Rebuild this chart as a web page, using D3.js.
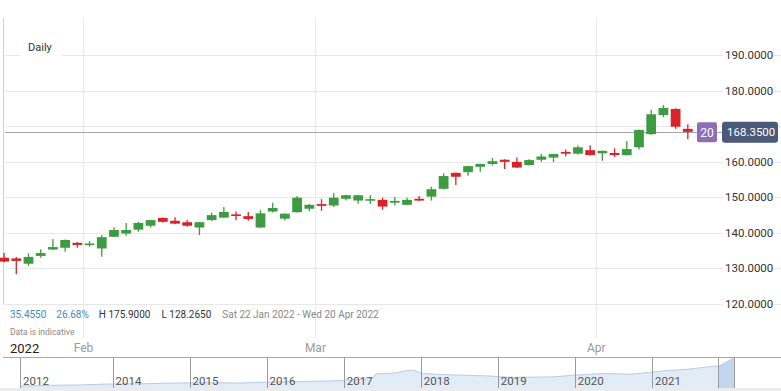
<!DOCTYPE html>
<html>
<head>
<meta charset="utf-8">
<script src="https://cdn.jsdelivr.net/npm/d3@7"></script>
<style>
  body { margin: 0; background: #fff; }
  svg { display: block; font-family: Roboto, "Open Sans", sans-serif; }
</style>
</head>
<body>
<svg id="chart" width="781" height="391"></svg>
<script>
// daily candles
const dates = [
  '2022-01-21', '2022-01-24', '2022-01-25', '2022-01-26', '2022-01-27', '2022-01-28', '2022-01-31',
  '2022-02-01', '2022-02-02', '2022-02-03', '2022-02-04', '2022-02-07', '2022-02-08', '2022-02-09',
  '2022-02-10', '2022-02-11', '2022-02-14', '2022-02-15', '2022-02-16', '2022-02-17', '2022-02-18',
  '2022-02-22', '2022-02-23', '2022-02-24', '2022-02-25', '2022-02-28',
  '2022-03-01', '2022-03-02', '2022-03-03', '2022-03-04', '2022-03-07', '2022-03-08', '2022-03-09',
  '2022-03-10', '2022-03-11', '2022-03-14', '2022-03-15', '2022-03-16', '2022-03-17', '2022-03-18',
  '2022-03-21', '2022-03-22', '2022-03-23', '2022-03-24', '2022-03-25', '2022-03-28', '2022-03-29',
  '2022-03-30', '2022-03-31',
  '2022-04-01', '2022-04-04', '2022-04-05', '2022-04-06', '2022-04-07', '2022-04-08', '2022-04-11',
  '2022-04-12'
];
const opens = [
  132.9, 132.7, 131.2, 133.4, 135.2, 135.7, 137.1,
  136.8, 135.5, 138.8, 139.7, 140.8, 141.9, 144.1, 143.3, 142.9, 141.4, 143.5, 144.2, 145.1, 144.6,
  141.4, 145.9, 143.9, 145.7, 146.7,
  148.0, 147.6, 149.5, 149.0, 149.0, 149.2, 148.4, 147.8, 149.5, 150.1, 152.3, 156.8, 157.0, 158.5,
  159.3, 160.5, 159.9, 159.0, 160.5, 161.1, 162.7, 162.2, 163.2,
  162.3, 162.4, 161.8, 164.0, 167.7, 173.1, 174.8, 169.2
];
const highs = [
  134.2, 133.1, 134.1, 135.3, 138.2, 138.0, 137.3,
  137.6, 139.3, 141.5, 142.7, 143.0, 143.6, 144.2, 144.3, 143.5, 143.0, 145.6, 147.2, 145.9, 145.8,
  146.3, 148.4, 145.4, 150.3, 148.0,
  149.4, 151.1, 150.6, 150.6, 150.5, 149.8, 150.0, 149.8, 150.3, 152.9, 156.7, 156.9, 158.8, 159.4,
  161.0, 160.6, 161.1, 160.6, 162.1, 162.2, 163.4, 164.5, 164.6,
  163.1, 163.7, 165.8, 169.0, 174.6, 175.9, 175.0, 170.5
];
const lows = [
  131.6, 128.265, 130.6, 132.9, 135.1, 134.6, 135.7,
  136.0, 133.2, 138.7, 139.1, 140.2, 141.4, 142.8, 142.3, 141.6, 139.3, 143.2, 144.1, 143.5, 143.3,
  141.3, 145.6, 143.4, 145.6, 146.0,
  146.1, 147.2, 149.0, 148.1, 148.1, 146.4, 147.6, 147.7, 148.9, 149.0, 152.1, 153.4, 156.0, 157.1,
  158.8, 157.9, 158.2, 158.9, 159.9, 159.8, 161.4, 162.0, 161.7,
  160.2, 161.3, 161.7, 163.4, 167.5, 172.5, 169.2, 166.3
];
const closes = [
  131.8, 132.0, 133.1, 134.2, 135.9, 137.9, 136.5,
  136.9, 138.7, 140.7, 140.7, 142.7, 143.5, 143.0, 142.5, 141.9, 142.9, 144.9, 145.8, 144.8, 143.8,
  145.4, 146.9, 145.3, 149.8, 147.8,
  147.5, 149.8, 150.5, 150.5, 149.4, 147.3, 148.9, 149.2, 149.0, 152.2, 155.9, 155.7, 158.7, 159.3,
  160.1, 159.9, 158.3, 160.4, 161.4, 162.1, 162.2, 164.0, 161.8,
  163.0, 161.8, 163.5, 168.9, 173.3, 175.1, 169.8, 168.35
];

const priceTicks = [120, 130, 140, 150, 160, 170, 180, 190];
const monthLabels = ['Feb', 'Mar', 'Apr'];
const monthStarts = ['2022-02-01', '2022-03-01', '2022-04-01'];
const lastPrice = 168.35;
const countLabel = '20';

const statValues = ['35.4550', '26.68%'];
const statHigh = 'H 175.9000';
const statLow = 'L 128.2650';
const statRange = 'Sat 22 Jan 2022 - Wed 20 Apr 2022';

// long-range navigator
const navDates = [
  '2012-10-19', '2013-03-01', '2013-08-01', '2014-01-01', '2014-06-01', '2014-11-01', '2015-04-01',
  '2015-09-01', '2016-01-01', '2016-06-01', '2016-11-01', '2017-03-01', '2017-05-20', '2017-06-01',
  '2017-09-01', '2017-11-15', '2018-01-15', '2018-06-01', '2018-12-01', '2019-03-01', '2019-09-01',
  '2019-12-15', '2020-03-01', '2020-06-01', '2020-09-01', '2020-12-15', '2021-04-01', '2021-08-01',
  '2021-12-01', '2022-01-22', '2022-03-01', '2022-04-20'
];
const navValues = [
  53, 56, 58, 62, 63, 66, 67,
  66, 70, 72, 75, 80, 87, 104,
  108, 120, 106, 100, 95, 90, 91,
  98, 102, 106, 103, 110, 118, 124,
  134, 137, 150, 172
];
const navYearLabels = ['2012', '2014', '2015', '2016', '2017', '2018', '2019', '2020', '2021'];
const navYearDates = ['2012-10-19', '2014-01-01', '2015-01-01', '2016-01-01', '2017-01-01',
  '2018-01-01', '2019-01-01', '2020-01-01', '2021-01-01'];

const parse = d3.timeParse('%Y-%m-%d');
const green = '#3d9c41', red = '#d8232a';

const svg = d3.select('#chart');

const x = d3.scaleBand().domain(dates).range([-0.8, 692.7]).paddingInner(0.2).paddingOuter(0);
const y = d3.scaleLinear().domain([120, 190]).range([303.5, 55]);

// grid
const grid = svg.append('g');
grid.selectAll('line.h').data(priceTicks).enter().append('line')
  .attr('x1', 5).attr('x2', 781)
  .attr('y1', d => Math.round(y(d)) + 0.5).attr('y2', d => Math.round(y(d)) + 0.5)
  .attr('stroke', '#e8e8e8');
const monthX = d => x(d) - x.step() * x.paddingInner() / 2;
grid.selectAll('line.v').data(monthStarts).enter().append('line')
  .attr('x1', d => Math.round(monthX(d)) + 0.5).attr('x2', d => Math.round(monthX(d)) + 0.5)
  .attr('y1', 18).attr('y2', 338)
  .attr('stroke', '#e8e8e8');
svg.append('line').attr('x1', 3.5).attr('x2', 3.5).attr('y1', 18).attr('y2', 305)
  .attr('stroke', '#cfcfcf');

// Daily label
svg.append('rect').attr('x', 20).attr('y', 38).attr('width', 42).attr('height', 20).attr('fill', '#fff');
svg.append('text').attr('x', 28).attr('y', 51).attr('font-size', 11).attr('fill', '#333').text('Daily');

// last price line
svg.append('line').attr('x1', 5).attr('x2', 722)
  .attr('y1', Math.round(y(lastPrice)) + 0.5).attr('y2', Math.round(y(lastPrice)) + 0.5)
  .attr('stroke', '#a3a7ab');

// candles
const candles = svg.append('g').selectAll('g').data(dates).enter().append('g');
const cx = d => x(d) + x.bandwidth() / 2;
const col = (d, i) => closes[i] >= opens[i] ? green : red;
candles.append('line')
  .attr('x1', cx).attr('x2', cx)
  .attr('y1', (d, i) => y(highs[i])).attr('y2', (d, i) => y(lows[i]))
  .attr('stroke', col).attr('stroke-width', 1.3);
candles.append('rect')
  .attr('x', d => x(d))
  .attr('width', x.bandwidth())
  .attr('y', (d, i) => y(Math.max(opens[i], closes[i])))
  .attr('height', (d, i) => Math.max(1.6, Math.abs(y(opens[i]) - y(closes[i]))))
  .attr('fill', col);

// right axis labels (the one under the price badge is hidden)
const axis = svg.append('g');
const tickG = axis.selectAll('g').data(priceTicks.filter(d => Math.abs(y(d) - y(lastPrice)) > 12))
  .enter().append('g')
  .attr('transform', d => `translate(0,${y(d)})`);
tickG.append('rect').attr('x', 723).attr('y', -8).attr('width', 49).attr('height', 16).attr('fill', '#fff');
tickG.append('text').attr('x', 725).attr('dy', '0.35em').attr('font-size', 11.5).attr('fill', '#333')
  .text(d => d3.format('.4f')(d));

// count + price badges
const ly = y(lastPrice);
svg.append('rect').attr('x', 697).attr('y', ly - 9.5).attr('width', 20).attr('height', 20).attr('rx', 2)
  .attr('fill', '#8c6fb4');
svg.append('text').attr('x', 707).attr('y', ly + 0.5).attr('dy', '0.35em').attr('text-anchor', 'middle')
  .attr('font-size', 12).attr('fill', '#fff').text(countLabel);
svg.append('rect').attr('x', 722).attr('y', ly - 10).attr('width', 56).attr('height', 21).attr('rx', 3)
  .attr('fill', '#4b5a78');
svg.append('text').attr('x', 727).attr('y', ly + 0.5).attr('dy', '0.35em')
  .attr('font-size', 11.5).attr('fill', '#fff').text(d3.format('.4f')(lastPrice));

// stats row
const stats = svg.append('text').attr('x', 10).attr('y', 317.5).attr('font-size', 10);
stats.append('tspan').attr('fill', '#3f8ab9').text(statValues[0]);
stats.append('tspan').attr('dx', 10).attr('fill', '#3f8ab9').text(statValues[1]);
stats.append('tspan').attr('dx', 10).attr('fill', '#333').text(statHigh);
stats.append('tspan').attr('dx', 11).attr('fill', '#333').text(statLow);
stats.append('tspan').attr('dx', 11).attr('fill', '#888').text(statRange);
svg.append('text').attr('x', 10).attr('y', 335).attr('font-size', 8.5).attr('fill', '#888')
  .text('Data is indicative');

// month axis
svg.append('text').attr('x', 10).attr('y', 353).attr('font-size', 13).attr('fill', '#222').text('2022');
svg.selectAll('text.month').data(monthStarts).enter().append('text')
  .attr('x', d => monthX(d)).attr('y', 352).attr('text-anchor', 'middle')
  .attr('font-size', 12).attr('fill', '#999')
  .text((d, i) => monthLabels[i]);

// navigator
const nx = d3.scaleTime()
  .domain([parse('2012-10-19'), parse('2021-01-01'), parse('2022-01-22'), parse('2022-04-20')])
  .range([20, 652, 718, 734]);
const ny = d3.scaleLinear().domain([45, 175]).range([388, 357]);
const navPts = navDates.map((d, i) => [parse(d), navValues[i]]);
const area = d3.area().x(d => nx(d[0])).y0(388).y1(d => ny(d[1])).curve(d3.curveMonotoneX);
const line = d3.line().x(d => nx(d[0])).y(d => ny(d[1])).curve(d3.curveMonotoneX);

svg.append('rect').attr('x', 0).attr('y', 388).attr('width', 781).attr('height', 3).attr('fill', '#ebebeb');
svg.append('path').datum(navPts).attr('d', area).attr('fill', '#e2ecf6');
svg.append('clipPath').attr('id', 'sel').append('rect')
  .attr('x', nx(parse('2022-01-22'))).attr('y', 350).attr('width', nx(parse('2022-04-20')) - nx(parse('2022-01-22')))
  .attr('height', 40);
svg.append('path').datum(navPts).attr('d', area).attr('fill', '#c2d7ee').attr('clip-path', 'url(#sel)');
svg.append('path').datum(navPts).attr('d', line).attr('fill', 'none').attr('stroke', '#b7cde4');

svg.append('line').attr('x1', 3).attr('x2', 781).attr('y1', 357.5).attr('y2', 357.5).attr('stroke', '#a8a8a8');
svg.selectAll('line.yr').data(navYearDates).enter().append('line')
  .attr('x1', d => Math.round(nx(parse(d))) + 0.5).attr('x2', d => Math.round(nx(parse(d))) + 0.5)
  .attr('y1', 357).attr('y2', 388).attr('stroke', '#9a9a9a');
svg.selectAll('text.yr').data(navYearDates).enter().append('text')
  .attr('x', d => nx(parse(d)) + 3).attr('y', 385).attr('font-size', 11.5).attr('fill', '#555')
  .text((d, i) => navYearLabels[i]);
[parse('2022-01-22'), parse('2022-04-20')].forEach(d => {
  svg.append('line').attr('x1', Math.round(nx(d)) + 0.5).attr('x2', Math.round(nx(d)) + 0.5)
    .attr('y1', 357).attr('y2', 388).attr('stroke', '#9a9a9a');
});
</script>
</body>
</html>
